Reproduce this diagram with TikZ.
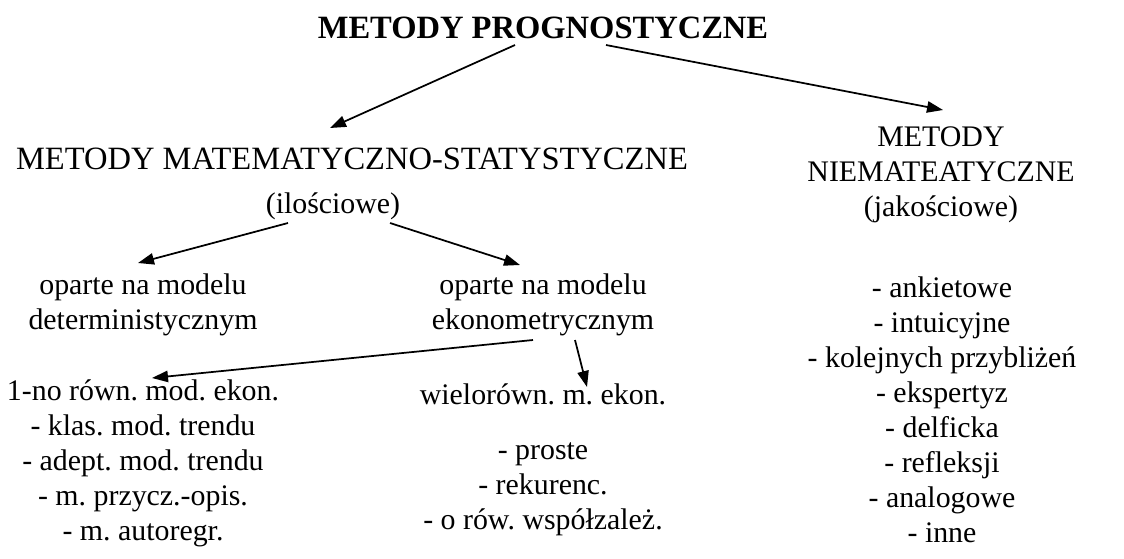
\documentclass[tikz,border=0pt]{standalone}
\usepackage{fontspec}
\setmainfont{Liberation Serif}
\usetikzlibrary{arrows.meta}
\tikzset{
    txt/.style={align=center,inner sep=2pt,font=\fontsize{22.4}{26.25}\selectfont},
    big/.style={txt,font=\fontsize{24.4}{26.25}\selectfont},
    arr/.style={-{Triangle[length=12pt,width=8.5pt]},line width=1.3pt}
}
\begin{document}
\frenchspacing
\begin{tikzpicture}[x=0.75pt,y=-0.75pt]
        \useasboundingbox (0,0) rectangle (1124,558);
        %% top level
        \node[big,font=\fontsize{24.4}{26.25}\selectfont\bfseries] (title) at (543,28) {METODY PROGNOSTYCZNE};
        \node[big] (mat) at (352,159) {METODY MATEMATYCZNO-STATYSTYCZNE};
        \node[txt] (ilosc) at (333,206) {(ilościowe)};
        \node[txt] (nie) at (941,175) {METODY\\NIEMATEATYCZNE\\(jakościowe)};
        %% mathematical branch
        \node[txt] (det) at (143,305) {oparte na modelu\\deterministycznym};
        \node[txt] (eko) at (543,305) {oparte na modelu\\ekonometrycznym};
        \node[txt] (jedno) at (143,463) {1-no równ. mod. ekon.\\- klas. mod. trendu\\- adept. mod. trendu\\- m. przycz.-opis.\\- m. autoregr.};
        \node[txt] (wielo) at (543,394) {wielorówn. m. ekon.};
        \node[txt] (wlista) at (543,489) {- proste\\- rekurenc.\\- o rów. współzależ.};
        %% non-mathematical list
        \node[txt] (nlista) at (942,410) {- ankietowe\\- intuicyjne\\- kolejnych przybliżeń\\- ekspertyz\\- delficka\\- refleksji\\- analogowe\\- inne};
        %% arrows
        \draw[arr] ([shift={(-28,17)}]title.center) -- ([shift={(-22,-31)}]mat.center);
        \draw[arr] ([shift={(63,17)}]title.center) -- ([shift={(2,-65)}]nie.center);
        \draw[arr] ([shift={(-45,17)}]ilosc.center) -- ([shift={(-5,-42)}]det.center);
        \draw[arr] ([shift={(57,17)}]ilosc.center) -- ([shift={(-23,-40)}]eko.center);
        \draw[arr] ([shift={(-10,35)}]eko.center) -- ([shift={(9,-85)}]jedno.center);
        \draw[arr] ([shift={(32,35)}]eko.center) -- ([shift={(44,-7)}]wielo.center);
\end{tikzpicture}
\end{document}
